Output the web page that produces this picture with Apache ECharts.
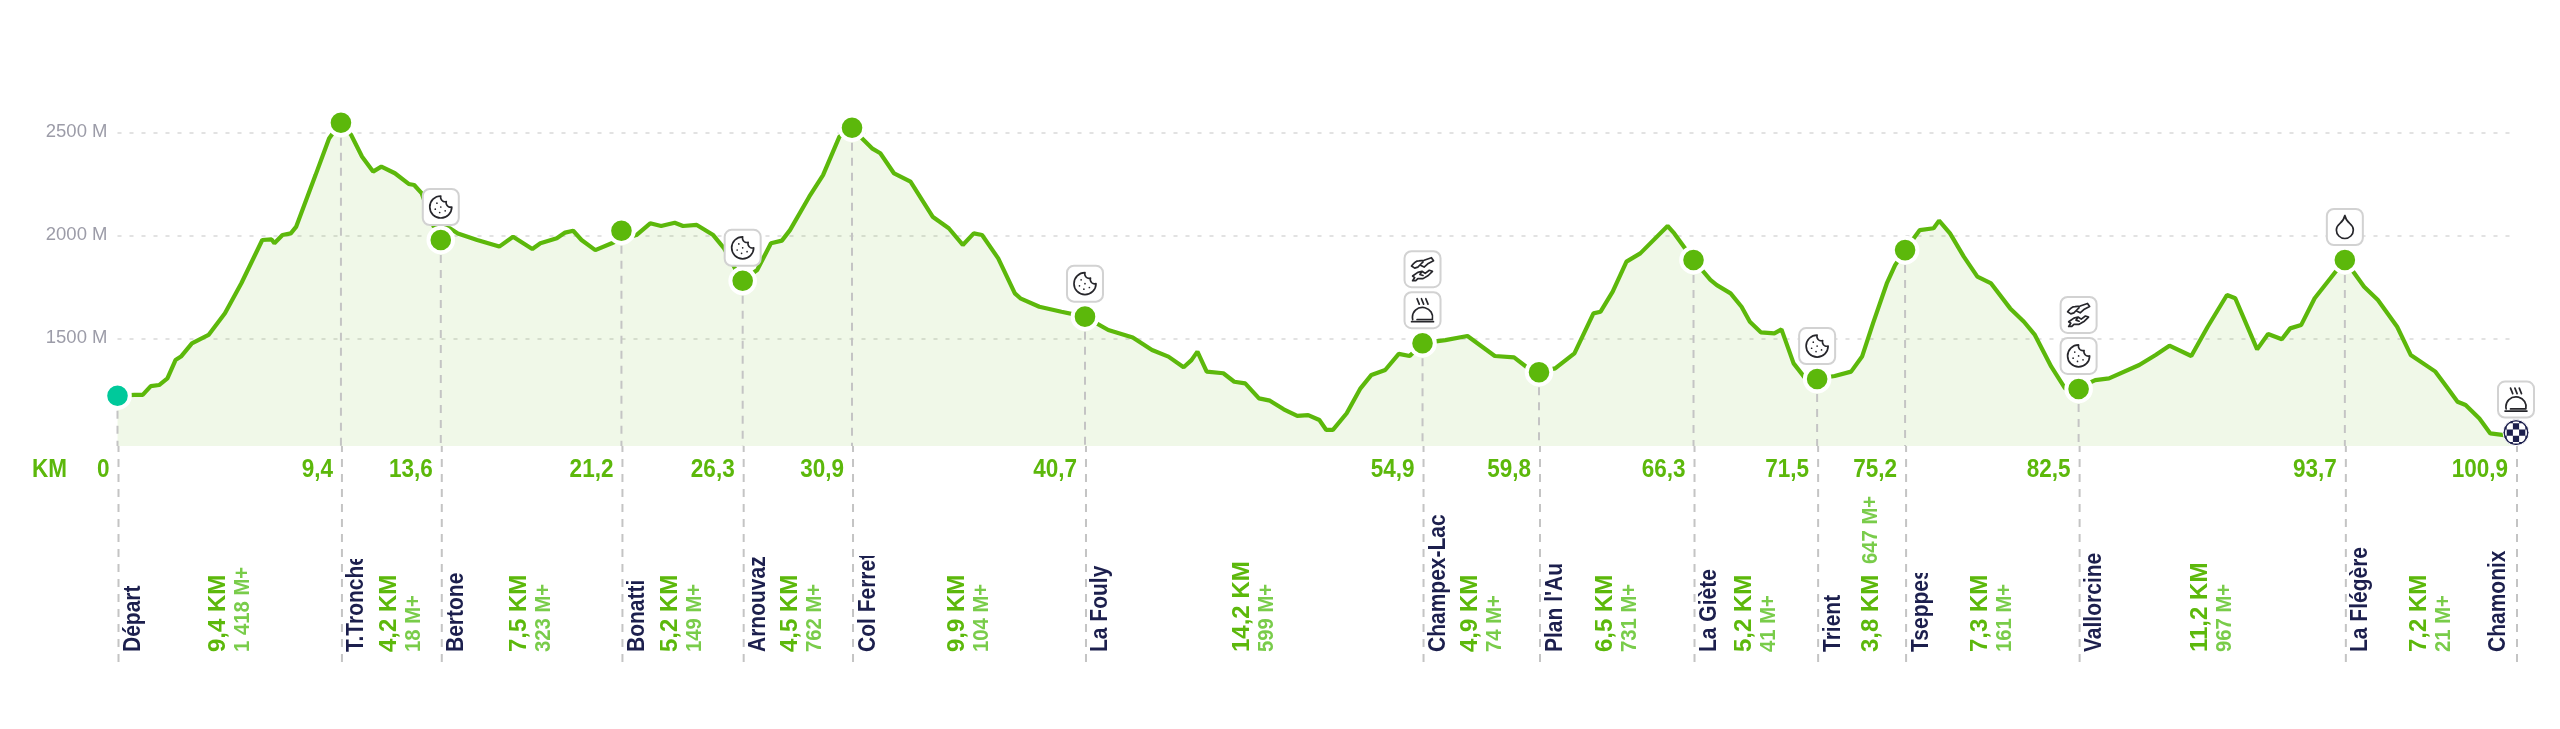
<!DOCTYPE html>
<html><head><meta charset="utf-8">
<style>html,body{margin:0;padding:0;background:#fff}#c{width:2560px;height:729px}</style>
<script src="https://cdn.jsdelivr.net/npm/echarts@6/dist/echarts.min.js"></script>
</head><body><div id="c"></div>
<script>
const stationNames = ["Départ","T.Tronche","Bertone","Bonatti","Arnouvaz","Col Ferret","La Fouly","Champex-Lac","Plan l'Au","La Giète","Trient","Tseppes","Vallorcine","La Flégère","Chamonix"];
const stationKm = [0,9.4,13.6,21.2,26.3,30.9,40.7,54.9,59.8,66.3,71.5,75.2,82.5,93.7,100.9];
const stationEle = [1221,2546,1977,2022,1779,2522,1605,1476,1335,1880,1302,1928,1254,1880,1042];
const segmentKm = ["9,4","4,2","7,5","5,2","4,5","9,9","14,2","4,9","6,5","5,2","3,8","7,3","11,2","7,2"];
const segmentGain = ["1 418","18","323","149","762","104","599","74","731","41","647","161","967","21"];
const stationIcons = [[],[],["cookie"],[],["cookie"],[],["cookie"],["cloche","hands"],[],[],["cookie"],[],["cookie","hands"],["drop"],["cloche"]];
const profileKm = [0,0.71,1.06,1.40,1.75,2.10,2.44,2.67,3.13,3.83,4.52,5.21,6.09,6.48,6.60,6.94,7.29,7.52,8.33,8.90,9.37,9.83,10.29,10.75,11.10,11.67,12.25,12.48,12.80,13.30,13.98,14.32,15.13,16.06,16.64,17.45,17.79,18.48,18.83,19.17,19.52,20.10,20.79,21.14,21.83,22.41,22.87,23.44,23.79,24.37,25.06,25.52,25.98,26.28,26.91,27.49,27.95,28.29,29.10,29.68,30.37,30.87,31.74,32.09,32.67,33.36,34.29,34.97,35.56,36.02,36.37,37.05,37.75,37.98,38.78,39.71,40.69,41.68,42.71,43.52,44.21,44.85,45.18,45.43,45.82,46.52,46.98,47.44,48.02,48.48,49.06,49.63,50.09,50.56,50.85,51.13,51.71,52.29,52.75,53.33,53.90,54.36,54.90,55.86,56.79,57.94,58.75,59.44,59.74,60.48,61.29,62.09,62.39,62.90,63.48,64.06,65.21,65.49,66.30,67.01,67.28,67.86,68.32,68.67,69.13,69.70,70.00,70.51,70.97,71.45,72.24,72.93,73.39,73.85,74.43,74.78,75.20,75.82,76.40,76.63,77.09,77.67,78.24,78.82,79.62,80.20,80.66,81.35,81.93,82.39,83.20,83.78,85.05,85.74,86.32,87.24,87.93,88.74,89.09,90.01,90.47,91.05,91.40,91.86,92.43,93.70,94.51,95.09,95.90,96.47,97.51,97.98,98.44,98.78,99.36,99.82,100.40,100.90];
const profileEle = [1221,1225,1225,1268,1273,1305,1394,1411,1475,1516,1621,1767,1977,1980,1961,2001,2009,2042,2292,2470,2546,2487,2381,2309,2333,2301,2249,2244,2203,2042,2034,2009,1977,1945,1993,1933,1961,1985,2013,2022,1977,1928,1961,1980,2001,2058,2045,2061,2045,2050,2001,1936,1839,1779,1831,1961,1974,2025,2187,2292,2479,2522,2422,2398,2300,2260,2090,2034,1953,2009,2001,1888,1718,1694,1653,1629,1605,1540,1504,1443,1411,1359,1394,1435,1338,1330,1289,1281,1208,1197,1155,1123,1127,1103,1055,1055,1136,1257,1322,1346,1424,1414,1476,1491,1511,1414,1407,1346,1335,1354,1427,1621,1629,1726,1872,1912,2045,2009,1880,1783,1758,1718,1653,1580,1529,1524,1543,1378,1310,1302,1317,1338,1411,1572,1766,1855,1928,2025,2034,2071,2009,1896,1799,1766,1645,1580,1516,1362,1257,1254,1297,1305,1370,1419,1464,1414,1556,1710,1694,1446,1521,1495,1548,1564,1694,1880,1750,1686,1556,1419,1338,1265,1192,1176,1111,1038,1030,1038];
const yTicks = [1500,2000,2500];

const GREEN='#5cb80b', LIGHT='#79cc4a', NAVY='#1c1f4d', FONT='"Liberation Sans",Arial,sans-serif';
const ICONS={
 cookie:"M12 2a10 10 0 1 0 10 10 4 4 0 0 1-5-5 4 4 0 0 1-5-5z M8.5 8.5v.01 M16 15.5v.01 M12 12v.01 M11 17v.01 M7 14v.01",
 drop:"M12 22a7 7 0 0 0 7-7c0-2-1-3.9-3-5.5s-3.5-4-4-6.5c-.5 2.5-2 4.9-4 6.5C6 11.1 5 13 5 15a7 7 0 0 0 7 7z",
 cloche:"M7 1 L9 6 M11 1 L13 6 M15 1 L17 6 M12 9 a9 9 0 0 0 -9 11 M7 20 H21 a9 9 0 0 0 -9 -11 M2 22 H22",
 hands:"M2 9 C4 6 6 4 9 4 L14 3.5 L21 1 L23 4 L18 6.5 L14 10 L10 8 L8 10 L5 11 Z M10 8 L13 5 M3 23 L5 20 L3 18.5 L8 15 L12 14 L15 16 L19 13 L22 14 L18 18 L13 21 L8 21 L6 23 Z M12 14 L10 17 L13 18"
};
const clipLen={"T.Tronche":93,"Col Ferret":96,"Tseppes":79};

const chart=echarts.init(document.getElementById('c'),null,{renderer:'canvas'});

function rotText(x,y,text,font,fill,clip,sy){
  const el={type:'text',x:x,y:y,rotation:Math.PI/2,scaleY:sy||1,silent:true,
    style:{text:text,x:0,y:0,font:font,fill:fill,textAlign:'left',textVerticalAlign:'middle'}};
  if(clip) el.clipPath={type:'rect',shape:{x:0,y:-20,width:clip,height:40}};
  return el;
}
function renderLabels(params,api){
  const i=api.value(2), p=api.coord([stationKm[i],0]);
  const x=p[0], bottom=p[1]-10, kids=[];
  kids.push({type:'text',x:x-9,y:483,scaleX:.85,silent:true,
    style:{text:String(stationKm[i]).replace('.',','),x:0,y:0,font:'bold 26.5px '+FONT,fill:GREEN,textAlign:'right',textVerticalAlign:'bottom'}});
  const last=i===stationKm.length-1;
  kids.push(rotText(last?x-18.5:x+15,bottom,stationNames[i],'bold 21px '+FONT,NAVY,clipLen[stationNames[i]],1.12));
  if(!last){
    const nx=api.coord([stationKm[i+1],0])[0], mid=(x+nx)/2, w=nx-x;
    if(w<95){
      kids.push(rotText(mid+9,bottom,segmentKm[i]+' KM','bold 24px '+FONT,GREEN));
      kids.push(rotText(mid+9,bottom-88,segmentGain[i]+' M+','bold 20.3px '+FONT,LIGHT,0,1.12));
    }else{
      const kx=Math.max(mid-12.3,x+47);
      kids.push(rotText(kx,bottom,segmentKm[i]+' KM','bold 24px '+FONT,GREEN));
      kids.push(rotText(kx+24.4,bottom,segmentGain[i]+' M+','bold 20.3px '+FONT,LIGHT,0,1.12));
    }
  }
  return {type:'group',children:kids};
}
function renderIcons(params,api){
  const i=api.value(2), p=api.coord([stationKm[i],stationEle[i]]), kids=[];
  if(i===stationKm.length-1){
    kids.push({type:'circle',shape:{cx:p[0],cy:p[1],r:13},style:{fill:NAVY,stroke:'#fff',lineWidth:1}});
    const sq=[],s=6.2;
    for(let a=-2;a<=2;a++)for(let b=-2;b<=2;b++) if((a+b+100)%2===0)
      sq.push({type:'rect',shape:{x:p[0]+a*s-s/2,y:p[1]+b*s-s/2,width:s,height:s},style:{fill:'#fff'}});
    kids.push({type:'group',children:sq,clipPath:{type:'circle',shape:{cx:p[0],cy:p[1],r:11}}});
  }
  stationIcons[i].forEach((name,k)=>{
    const cy=p[1]-33-41*k;
    kids.push({type:'rect',shape:{x:p[0]-18,y:cy-18,width:36,height:36,r:7},style:{fill:'#fff',stroke:'#d2d2d2',lineWidth:2}});
    kids.push({type:'path',shape:{pathData:ICONS[name],layout:'center',x:p[0]-11,y:cy-11.5,width:22,height:23},
      style:{fill:'none',stroke:'#26262b',lineWidth:1.7,lineCap:'round',lineJoin:'round'}});
  });
  return {type:'group',children:kids};
}
const rows=stationKm.map((k,i)=>[k,0,i]);
function dashUp(){const d=[];stationKm.forEach((k,i)=>{d.push([k,stationEle[i]],[k,977],null)});return d;}
function dashDown(){const d=[];stationKm.forEach(k=>{d.push([k,0],[k,1],null)});return d;}
const dashStyle={color:'#c4c4c4',width:2,type:[8,7]};

chart.setOption({
  animation:false,backgroundColor:'#fff',
  grid:[{left:117.5,right:44,top:111.66,height:334.34},{left:118.5,right:43,top:446,height:216}],
  xAxis:[{type:'value',min:0,max:100.9,show:false,gridIndex:0},{type:'value',min:0,max:100.9,show:false,gridIndex:1}],
  yAxis:[
   {type:'value',min:977,max:2600,gridIndex:0,axisLine:{show:false},
    axisTick:{show:false,customValues:yTicks},
    axisLabel:{customValues:yTicks,formatter:function(v){return v+' M'},color:'#9c9ca8',fontSize:18.5,fontFamily:FONT,margin:10},
    splitLine:{show:true,lineStyle:{color:'#e2e2e2',width:2,type:[4,8]}}},
   {type:'value',min:0,max:1,gridIndex:1,show:false,splitLine:{show:false}}
  ],
  series:[
   {type:'line',name:'profil',data:profileKm.map((k,i)=>[k,profileEle[i]]),showSymbol:false,symbol:'none',smooth:false,
    lineStyle:{color:GREEN,width:4.2},areaStyle:{color:'rgba(100,185,20,0.14)',origin:'start'},z:3},
   {type:'line',data:dashUp(),connectNulls:false,showSymbol:false,symbol:'none',lineStyle:dashStyle,z:4,silent:true},
   {type:'line',data:dashDown(),xAxisIndex:1,yAxisIndex:1,connectNulls:false,showSymbol:false,symbol:'none',lineStyle:dashStyle,z:4,silent:true},
   {type:'scatter',data:stationKm.slice(0,-1).map((k,i)=>({value:[k,stationEle[i]],itemStyle:{color:i===0?'#00c99b':'#5cb80b',opacity:1}})),
    symbolSize:24.6,itemStyle:{borderColor:'#fff',borderWidth:4,opacity:1},z:5,silent:true},
   {type:'custom',data:rows,xAxisIndex:0,yAxisIndex:0,encode:{x:0,y:1},renderItem:renderIcons,z:6,silent:true},
   {type:'custom',data:rows,xAxisIndex:1,yAxisIndex:1,encode:{x:0,y:1},renderItem:renderLabels,z:6,silent:true}
  ],
  graphic:[{type:'text',left:32,top:456,z:10,scaleX:.85,style:{text:'KM',font:'bold 26.5px '+FONT,fill:GREEN}}]
});
</script></body></html>
